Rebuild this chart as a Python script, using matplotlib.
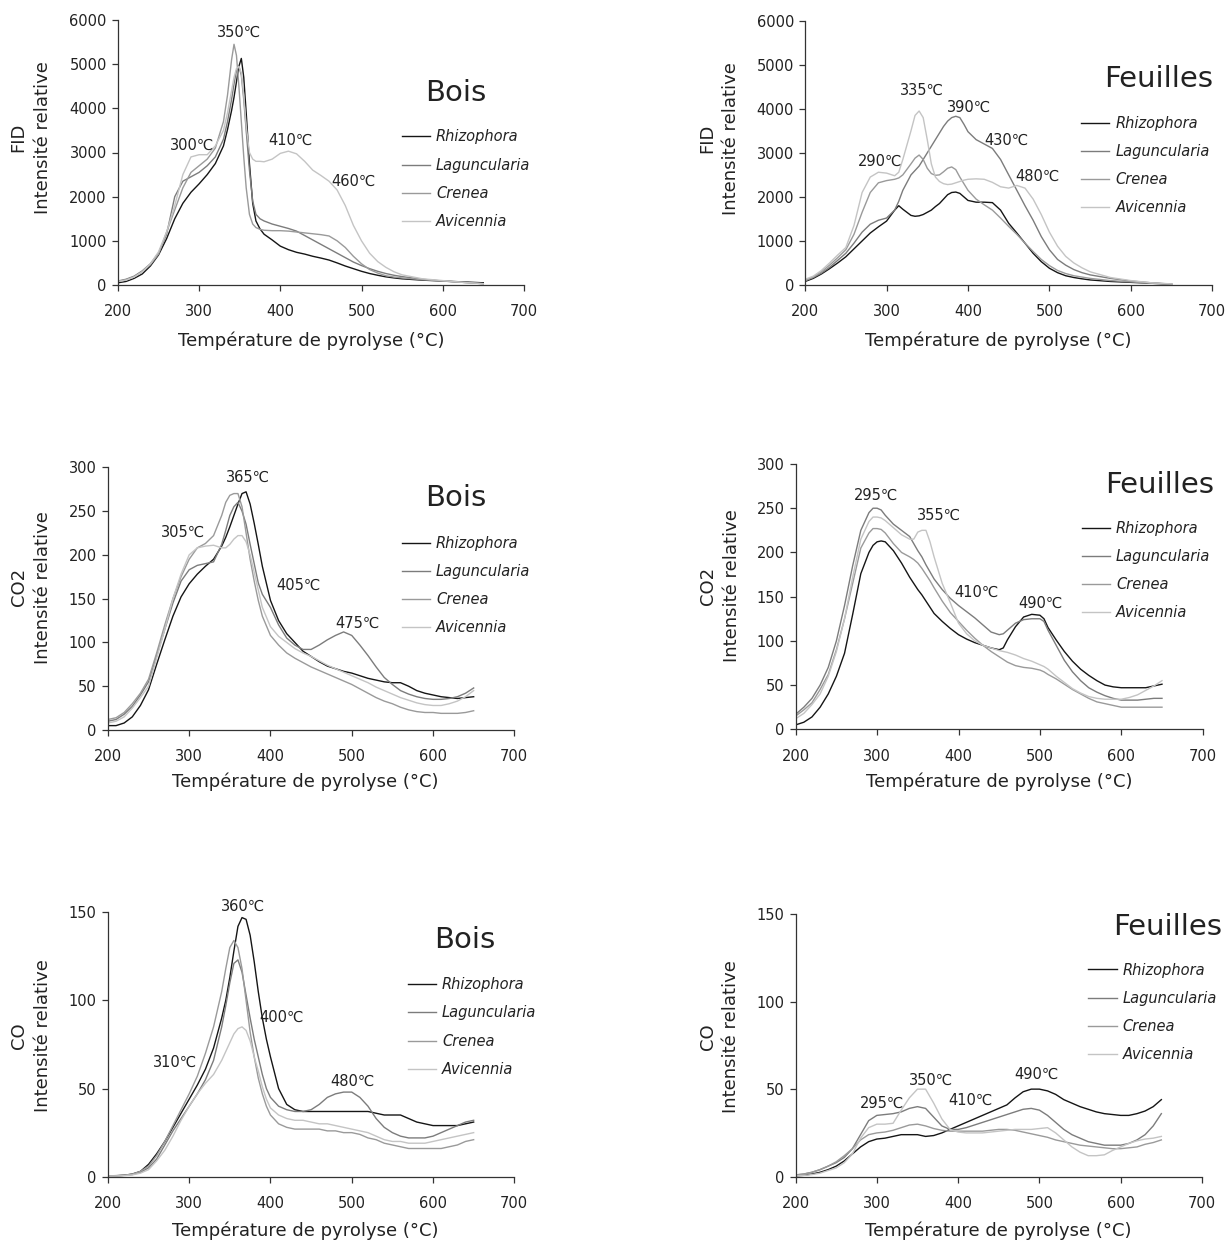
import matplotlib
matplotlib.use('Agg')
import matplotlib.pyplot as plt

plt.rcParams['font.family'] = ['DejaVu Sans']

species = ['Rhizophora', 'Laguncularia', 'Crenea', 'Avicennia']
colors = ['#151515', '#7c7c7c', '#9a9a9a', '#c4c4c4']

# FID, bois
fid_bois_T = [200, 210, 220, 230, 240, 250, 260, 270, 280, 290, 300, 310, 320, 330, 335, 340,
              343, 346, 349, 352, 355, 358, 362, 366, 370, 375, 380, 390, 400, 410, 420, 430,
              440, 450, 460, 470, 480, 490, 500, 510, 520, 530, 540, 550, 575, 600, 625, 650]
fid_bois_rhizo = [50, 80, 150, 250, 430, 680, 1050, 1500, 1850, 2100, 2290, 2500, 2750, 3150, 3520, 3950,
                  4250, 4600, 4950, 5130, 4700, 3900, 2750, 1850, 1450, 1270, 1150, 1020, 880, 800, 740, 700,
                  650, 610, 565, 500, 430, 370, 310, 260, 220, 185, 160, 140, 110, 90, 70, 50]
fid_bois_lagun = [90, 130, 200, 320, 480, 720, 1150, 2000, 2350, 2450, 2550, 2700, 2900, 3300, 3700, 4200,
                  4550, 4850, 4950, 4750, 4200, 3500, 2600, 1900, 1600, 1500, 1450, 1380, 1330, 1280, 1220, 1120,
                  1020, 920, 820, 720, 620, 520, 440, 370, 310, 260, 220, 190, 130, 90, 60, 30]
fid_bois_crenea = [80, 120, 190, 300, 460, 700, 1200, 1700, 2200, 2550, 2700, 2850, 3100, 3700, 4300, 5100,
                   5450, 5200, 4500, 3700, 2900, 2200, 1600, 1380, 1300, 1260, 1240, 1230, 1230, 1220, 1200, 1180,
                   1160, 1140, 1110, 1000, 850, 650, 480, 350, 270, 210, 180, 160, 120, 90, 60, 30]
fid_bois_avic = [80, 110, 180, 300, 480, 750, 1200, 1800, 2500, 2900, 2950, 2950, 3150, 3500, 3900, 4400,
                 4700, 4900, 4950, 4800, 4300, 3600, 3000, 2850, 2800, 2800, 2790, 2850, 2980, 3030, 2970, 2800,
                 2600, 2480, 2350, 2150, 1800, 1350, 1000, 720, 530, 400, 300, 230, 140, 100, 60, 30]

# FID, feuilles
fid_feuil_T = [200, 210, 220, 230, 240, 250, 260, 270, 280, 290, 300, 310, 315, 320, 330, 335,
               340, 345, 350, 355, 360, 365, 370, 375, 380, 385, 390, 395, 400, 410, 420, 430,
               440, 450, 460, 470, 480, 490, 500, 510, 520, 530, 540, 550, 575, 600, 625, 650]
fid_feuil_rhizo = [80, 150, 250, 370, 500, 640, 820, 1000, 1180, 1320, 1450, 1700, 1800, 1720, 1580, 1560,
                   1570, 1600, 1650, 1700, 1780, 1850, 1950, 2050, 2100, 2110, 2080, 2000, 1920, 1880, 1880, 1870,
                   1700, 1400, 1180, 950, 720, 530, 380, 280, 210, 170, 140, 115, 80, 60, 40, 20]
fid_feuil_lagun = [100, 170, 270, 400, 560, 720, 950, 1200, 1380, 1470, 1520, 1700, 1900, 2150, 2500, 2600,
                   2700, 2850, 3000, 3150, 3300, 3450, 3600, 3720, 3800, 3830, 3800, 3650, 3480, 3300, 3200, 3100,
                   2850, 2500, 2150, 1800, 1470, 1100, 800, 580, 450, 350, 280, 230, 150, 90, 50, 20]
fid_feuil_crenea = [100, 180, 300, 450, 620, 800, 1150, 1650, 2100, 2320, 2370, 2400, 2430, 2500, 2750, 2880,
                    2950, 2850, 2650, 2530, 2490, 2500, 2570, 2650, 2680, 2620, 2450, 2300, 2150, 1950, 1820, 1700,
                    1520, 1330, 1150, 950, 760, 580, 440, 330, 260, 210, 180, 150, 100, 70, 40, 20]
fid_feuil_avic = [130, 200, 330, 500, 680, 850, 1350, 2100, 2450, 2560, 2540, 2480, 2560, 2850, 3500, 3850,
                  3950, 3800, 3300, 2750, 2450, 2350, 2300, 2280, 2290, 2320, 2350, 2380, 2400, 2410, 2400, 2330,
                  2230, 2200, 2260, 2200, 1950, 1600, 1200, 880, 650, 500, 390, 300, 170, 100, 50, 25]

# CO2, bois
co2_bois_T = [200, 210, 220, 230, 240, 250, 260, 270, 280, 290, 300, 310, 320, 330, 340, 345, 350,
              355, 360, 365, 370, 375, 380, 385, 390, 400, 410, 420, 430, 440, 450, 460, 470, 480,
              490, 500, 510, 520, 530, 540, 550, 560, 570, 580, 590, 600, 610, 620, 630, 640, 650]
co2_bois_rhizo = [5, 5, 8, 15, 28, 46, 75, 103, 130, 152, 167, 178, 187, 195, 210, 220, 232,
                  245, 258, 270, 272, 258, 236, 212, 187, 148, 125, 110, 100, 90, 84, 78, 73, 70,
                  67, 65, 62, 59, 57, 55, 54, 54, 50, 45, 42, 40, 38, 37, 36, 37, 38]
co2_bois_lagun = [10, 12, 18, 27, 40, 55, 85, 115, 145, 170, 183, 188, 190, 192, 212, 228, 245,
                  255, 260, 250, 235, 212, 190, 168, 155, 140, 120, 105, 97, 92, 92, 97, 103, 108,
                  112, 108, 97, 85, 72, 60, 52, 45, 41, 38, 36, 35, 35, 36, 38, 42, 48]
co2_bois_crenea = [12, 14, 20, 30, 42, 58, 88, 120, 150, 175, 195, 208, 213, 222, 245, 260, 268,
                   270, 270, 255, 225, 195, 170, 148, 130, 108, 97, 88, 82, 77, 72, 68, 64, 60,
                   56, 52, 47, 42, 37, 33, 30, 26, 23, 21, 20, 20, 19, 19, 19, 20, 22]
co2_bois_avic = [8, 10, 15, 25, 37, 50, 82, 115, 150, 178, 200, 208, 210, 211, 208, 208, 212,
                 218, 222, 222, 215, 200, 180, 160, 140, 118, 107, 100, 93, 88, 84, 79, 74, 70,
                 66, 62, 58, 54, 49, 45, 41, 37, 34, 31, 29, 28, 28, 30, 33, 38, 45]

# CO2, feuilles
co2_feuil_T = [200, 210, 220, 230, 240, 250, 260, 270, 280, 290, 295, 300, 305, 310, 320, 330, 340,
               345, 350, 355, 360, 365, 370, 380, 390, 400, 410, 420, 430, 440, 450, 455, 460,
               470, 480, 490, 500, 505, 510, 520, 530, 540, 550, 560, 570, 580, 590, 600, 610,
               620, 630, 640, 650]
co2_feuil_rhizo = [5, 8, 14, 25, 40, 60, 86, 130, 176, 200, 208, 212, 213, 212, 202, 188, 172,
                   165, 158, 152, 145, 138, 131, 122, 114, 107, 102, 98, 95, 92, 90, 92, 101,
                   116, 127, 130, 129, 125, 115, 101, 88, 77, 68, 61, 55, 50, 48, 47, 47,
                   47, 47, 49, 51]
co2_feuil_lagun = [17, 25, 35, 50, 70, 100, 140, 185, 225, 245, 250, 250, 248, 242, 232, 225, 218,
                   210, 202, 195, 186, 178, 170, 158, 148, 140, 133, 126, 118, 110, 107, 108, 112,
                   120, 124, 125, 125, 122, 112, 95, 78, 65, 55, 47, 42, 38, 35, 33, 33,
                   33, 34, 35, 35]
co2_feuil_crenea = [15, 22, 30, 45, 62, 90, 125, 165, 205, 222, 227, 227, 226, 222, 210, 200, 195,
                    192, 188, 182, 175, 168, 160, 145, 132, 122, 112, 103, 95, 88, 82, 79, 76,
                    72, 70, 69, 67, 65, 62, 57, 51, 45, 40, 35, 31, 29, 27, 25, 25,
                    25, 25, 25, 25]
co2_feuil_avic = [12, 18, 28, 40, 60, 88, 125, 172, 215, 235, 240, 240, 239, 236, 228, 220, 215,
                  215, 223, 225, 225, 212, 195, 165, 143, 120, 108, 100, 95, 92, 89, 88, 87,
                  84, 80, 77, 73, 71, 68, 60, 53, 46, 41, 37, 35, 34, 34, 34, 36,
                  39, 44, 49, 55]

# CO, bois
co_bois_T = [200, 210, 220, 230, 240, 250, 260, 270, 280, 290, 300, 310, 320, 330, 340, 345, 350,
             355, 360, 365, 370, 375, 380, 385, 390, 395, 400, 410, 420, 430, 440, 450, 460, 470,
             480, 490, 500, 510, 520, 530, 540, 550, 560, 570, 580, 590, 600, 610, 620, 630, 640, 650]
co_bois_rhizo = [0.5, 0.6, 0.8, 1.5, 3, 7, 13, 20, 28, 36, 44, 52, 61, 73, 90, 100, 113,
                 128, 142, 147, 146, 137, 122, 105, 90, 78, 68, 50, 41, 38, 37, 37, 37, 37,
                 37, 37, 37, 37, 37, 36, 35, 35, 35, 33, 31, 30, 29, 29, 29, 29, 30, 31]
co_bois_lagun = [0.5, 0.5, 0.8, 1.2, 2.5, 5, 10, 18, 26, 33, 40, 47, 55, 66, 85, 97, 110,
                 121, 123, 116, 103, 90, 78, 68, 58, 50, 45, 40, 38, 37, 37, 38, 41, 45,
                 47, 48, 48, 45, 40, 33, 28, 25, 23, 22, 22, 22, 23, 25, 27, 29, 31, 32]
co_bois_crenea = [0.5, 0.5, 0.8, 1.5, 3, 6, 12, 20, 29, 38, 47, 57, 70, 85, 105, 118, 130,
                  134, 130, 118, 100, 82, 68, 56, 47, 40, 35, 30, 28, 27, 27, 27, 27, 26,
                  26, 25, 25, 24, 22, 21, 19, 18, 17, 16, 16, 16, 16, 16, 17, 18, 20, 21]
co_bois_avic = [0.3, 0.4, 0.6, 1, 2, 4, 9, 15, 23, 32, 40, 47, 53, 58, 66, 71, 76,
                81, 84, 85, 83, 77, 68, 60, 51, 44, 39, 35, 33, 32, 32, 31, 30, 30,
                29, 28, 27, 26, 25, 23, 21, 20, 20, 19, 19, 19, 20, 21, 22, 23, 24, 25]

# CO, feuilles
co_feuil_T = [200, 210, 220, 230, 240, 250, 260, 270, 280, 290, 300, 310, 320, 330, 340, 350,
              360, 370, 380, 390, 400, 410, 420, 430, 440, 450, 460, 470, 480, 490, 500, 510,
              520, 530, 540, 550, 560, 570, 580, 590, 600, 610, 620, 630, 640, 650]
co_feuil_rhizo = [0.5, 0.8, 1.5, 2.5, 4, 6, 9, 13, 17, 20, 21.5, 22, 23, 24, 24, 24,
                  23, 23.5, 25, 27, 29, 31, 33, 35, 37, 39, 41, 45, 48.5, 50, 50, 49,
                  47, 44, 42, 40, 38.5, 37, 36, 35.5, 35, 35, 36, 37.5, 40, 44]
co_feuil_lagun = [1, 1.5, 2.5, 4, 6, 8, 11, 16, 24, 32, 35, 35.5, 36, 37, 39, 40,
                  39, 34, 29, 27, 27, 28, 29.5, 31, 32.5, 34, 35.5, 37, 38.5, 39, 38, 35,
                  31, 27, 24, 22, 20, 19, 18, 18, 18, 19, 21, 24, 29, 36]
co_feuil_crenea = [1, 1.5, 2.5, 4, 6, 8.5, 12, 16, 21, 24, 25, 25.5, 26.5, 28, 29.5, 30,
                   29, 27.5, 26.5, 26, 26, 26, 26, 26, 26.5, 27, 27, 26.5, 25.5, 24.5, 23.5, 22.5,
                   21, 20, 19, 18, 17.5, 17, 16.5, 16, 16, 16.5, 17, 18.5, 19.5, 21]
co_feuil_avic = [0.5, 0.7, 1.2, 2, 3.5, 5, 8, 13, 22, 28, 30, 30, 30.5, 38, 45, 50,
                 50, 42, 33, 27, 25.5, 25, 25, 25, 25.5, 26, 26.5, 27, 27, 27, 27.5, 28,
                 25, 21, 17, 14, 12, 12, 12.5, 15, 17, 19, 20.5, 21.5, 22, 23]

fid_ticks = [0, 1000, 2000, 3000, 4000, 5000, 6000]
co2_ticks = [0, 50, 100, 150, 200, 250, 300]
co_ticks = [0, 50, 100, 150]
temp_ticks = [200, 300, 400, 500, 600, 700]

# peak labels: (text, x, y) in data units
fid_bois_peaks = [('350℃', 348.6, 5720), ('300℃', 291, 3155), ('410℃', 413, 3283), ('460℃', 490, 2340)]
fid_feuil_peaks = [('335℃', 343.5, 4411), ('390℃', 401.3, 4033), ('290℃', 291.6, 2799),
                   ('430℃', 446.8, 3291), ('480℃', 484.8, 2474)]
co2_bois_peaks = [('365℃', 372.7, 289), ('305℃', 292.3, 226), ('405℃', 435, 165), ('475℃', 506.7, 122)]
co2_feuil_peaks = [('295℃', 299.2, 265), ('355℃', 376, 242), ('410℃', 421.5, 154.5), ('490℃', 500.8, 142.5)]
co_bois_peaks = [('360℃', 366.1, 153.6), ('310℃', 282.6, 64.7), ('400℃', 413.5, 90.2), ('480℃', 501.4, 54.3)]
co_feuil_peaks = [('350℃', 367, 55.2), ('295℃', 306.1, 41.9), ('410℃', 414.7, 43.4), ('490℃', 496.3, 58.6)]

W, H = 1229, 1243
fig = plt.figure(figsize=(W / 100, H / 100), dpi=100)

panels = [
    # px = axes box in figure pixels (left, right, bottom, top)
    dict(px=(117.9, 523.9, 285, 20), T=fid_bois_T,
         ys=[fid_bois_rhizo, fid_bois_lagun, fid_bois_crenea, fid_bois_avic],
         name='FID', ymax=6000, yt=fid_ticks, title='Bois', tpos=(615.6, 4340),
         peaks=fid_bois_peaks, leg=(549.6, 2396), ylab=(-0.215, 0.557), xlab=(0.475, -0.21)),
    dict(px=(805.1, 1212.3, 285, 20.7), T=fid_feuil_T,
         ys=[fid_feuil_rhizo, fid_feuil_lagun, fid_feuil_crenea, fid_feuil_avic],
         name='FID', ymax=6000, yt=fid_ticks, title='Feuilles', tpos=(634.6, 4676),
         peaks=fid_feuil_peaks, leg=(538.8, 2712), ylab=(-0.211, 0.555), xlab=(0.475, -0.211)),
    dict(px=(107.9, 514.3, 730, 467.3), T=co2_bois_T,
         ys=[co2_bois_rhizo, co2_bois_lagun, co2_bois_crenea, co2_bois_avic],
         name='CO2', ymax=300, yt=co2_ticks, title='Bois', tpos=(627.5, 264.6),
         peaks=co2_bois_peaks, leg=(561.6, 165.2), ylab=(-0.19, 0.543), xlab=(0.486, -0.197)),
    dict(px=(795.7, 1202.7, 729.3, 464), T=co2_feuil_T,
         ys=[co2_feuil_rhizo, co2_feuil_lagun, co2_feuil_crenea, co2_feuil_avic],
         name='CO2', ymax=300, yt=co2_ticks, title='Feuilles', tpos=(647.3, 276.3),
         peaks=co2_feuil_peaks, leg=(551.5, 179.5), ylab=(-0.185, 0.540), xlab=(0.500, -0.197)),
    dict(px=(107.9, 514.3, 1176.7, 912.3), T=co_bois_T,
         ys=[co_bois_rhizo, co_bois_lagun, co_bois_crenea, co_bois_avic],
         name='CO', ymax=150, yt=co_ticks, title='Bois', tpos=(638.5, 134.3),
         peaks=co_bois_peaks, leg=(569, 84.9), ylab=(-0.19, 0.533), xlab=(0.486, -0.204)),
    dict(px=(795.5, 1202, 1176.7, 914), T=co_feuil_T,
         ys=[co_feuil_rhizo, co_feuil_lagun, co_feuil_crenea, co_feuil_avic],
         name='CO', ymax=150, yt=co_ticks, title='Feuilles', tpos=(657.7, 142.8),
         peaks=co_feuil_peaks, leg=(560, 93.9), ylab=(-0.187, 0.533), xlab=(0.4996, -0.206)),
]

txt = '#222222'
for p in panels:
    l, r, b, t = p['px']
    ax = fig.add_axes([l / W, 1 - b / H, (r - l) / W, (b - t) / H])
    lines = []
    for y, c in zip(p['ys'], colors):
        ln, = ax.plot(p['T'], y, color=c, lw=1.0)
        lines.append(ln)
    ax.set_xlim(200, 700)
    ax.set_ylim(0, p['ymax'])
    ax.set_xticks(temp_ticks)
    ax.set_yticks(p['yt'])
    for s in ['top', 'right']:
        ax.spines[s].set_visible(False)
    for s in ['left', 'bottom']:
        ax.spines[s].set_color('#333333')
        ax.spines[s].set_linewidth(0.9)
    ax.tick_params(axis='both', direction='out', length=4, width=0.9, color='#333333',
                   labelsize=10.5, labelcolor=txt)
    ax.tick_params(axis='x', pad=10)
    ax.tick_params(axis='y', pad=4)

    ax.set_xlabel('Température de pyrolyse (°C)', fontsize=13, color=txt)
    ax.set_ylabel(p['name'] + '\nIntensité relative', fontsize=13, color=txt, linespacing=1.42)
    ax.xaxis.label.set_va('center')
    ax.yaxis.label.set_va('center')
    ax.xaxis.set_label_coords(*p['xlab'])
    ax.yaxis.set_label_coords(*p['ylab'])

    ax.text(p['tpos'][0], p['tpos'][1], p['title'], fontsize=21, color=txt,
            ha='center', va='center', clip_on=False)
    for s, x, y in p['peaks']:
        ax.text(x, y, s, fontsize=10.5, color=txt, ha='center', va='center')

    ax.legend(lines, species, loc='center left', bbox_to_anchor=p['leg'],
              bbox_transform=ax.transData, frameon=False,
              prop={'style': 'italic', 'size': 10.5}, handlelength=1.95,
              handletextpad=0.4, labelspacing=0.9, borderpad=0, borderaxespad=0,
              labelcolor=txt)

fig.savefig('out.png', dpi=100)
